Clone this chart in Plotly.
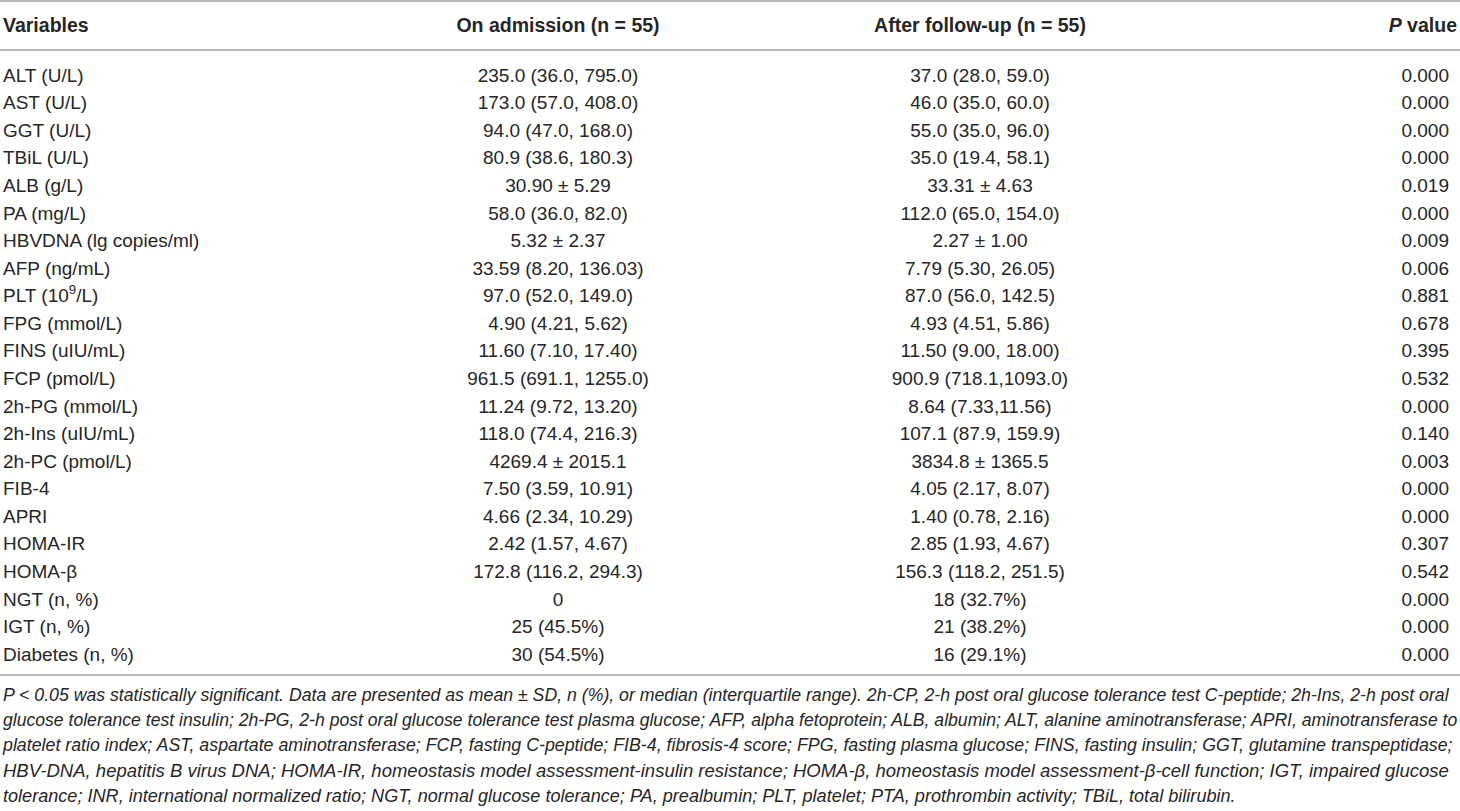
import plotly.graph_objects as go

variables = ["ALT (U/L)", "AST (U/L)", "GGT (U/L)", "TBiL (U/L)", "ALB (g/L)", "PA (mg/L)",
             "HBVDNA (lg copies/ml)", "AFP (ng/mL)", "PLT (10<sup>9</sup>/L)", "FPG (mmol/L)",
             "FINS (uIU/mL)", "FCP (pmol/L)", "2h-PG (mmol/L)", "2h-Ins (uIU/mL)", "2h-PC (pmol/L)",
             "FIB-4", "APRI", "HOMA-IR", "HOMA-β", "NGT (n, %)", "IGT (n, %)", "Diabetes (n, %)"]
on_admission = ["235.0 (36.0, 795.0)", "173.0 (57.0, 408.0)", "94.0 (47.0, 168.0)", "80.9 (38.6, 180.3)",
                "30.90 ± 5.29", "58.0 (36.0, 82.0)", "5.32 ± 2.37", "33.59 (8.20, 136.03)",
                "97.0 (52.0, 149.0)", "4.90 (4.21, 5.62)", "11.60 (7.10, 17.40)", "961.5 (691.1, 1255.0)",
                "11.24 (9.72, 13.20)", "118.0 (74.4, 216.3)", "4269.4 ± 2015.1", "7.50 (3.59, 10.91)",
                "4.66 (2.34, 10.29)", "2.42 (1.57, 4.67)", "172.8 (116.2, 294.3)", "0", "25 (45.5%)",
                "30 (54.5%)"]
after_follow_up = ["37.0 (28.0, 59.0)", "46.0 (35.0, 60.0)", "55.0 (35.0, 96.0)", "35.0 (19.4, 58.1)",
                   "33.31 ± 4.63", "112.0 (65.0, 154.0)", "2.27 ± 1.00", "7.79 (5.30, 26.05)",
                   "87.0 (56.0, 142.5)", "4.93 (4.51, 5.86)", "11.50 (9.00, 18.00)", "900.9 (718.1,1093.0)",
                   "8.64 (7.33,11.56)", "107.1 (87.9, 159.9)", "3834.8 ± 1365.5", "4.05 (2.17, 8.07)",
                   "1.40 (0.78, 2.16)", "2.85 (1.93, 4.67)", "156.3 (118.2, 251.5)", "18 (32.7%)",
                   "21 (38.2%)", "16 (29.1%)"]
p_values = ["0.000", "0.000", "0.000", "0.000", "0.019", "0.000", "0.009", "0.006", "0.881", "0.678",
            "0.395", "0.532", "0.000", "0.140", "0.003", "0.000", "0.000", "0.307", "0.542", "0.000",
            "0.000", "0.000"]
headers = ["Variables", "On admission (n = 55)", "After follow-up (n = 55)", "<i>P</i> value"]
footnote_lines = [
    "P < 0.05 was statistically significant. Data are presented as mean ± SD, n (%), or median (interquartile range). 2h-CP, 2-h post oral glucose tolerance test C-peptide; 2h-Ins, 2-h post oral",
    "glucose tolerance test insulin; 2h-PG, 2-h post oral glucose tolerance test plasma glucose; AFP, alpha fetoprotein; ALB, albumin; ALT, alanine aminotransferase; APRI, aminotransferase to",
    "platelet ratio index; AST, aspartate aminotransferase; FCP, fasting C-peptide; FIB-4, fibrosis-4 score; FPG, fasting plasma glucose; FINS, fasting insulin; GGT, glutamine transpeptidase;",
    "HBV-DNA, hepatitis B virus DNA; HOMA-IR, homeostasis model assessment-insulin resistance; HOMA-β, homeostasis model assessment-β-cell function; IGT, impaired glucose",
    "tolerance; INR, international normalized ratio; NGT, normal glucose tolerance; PA, prealbumin; PLT, platelet; PTA, prothrombin activity; TBiL, total bilirubin.",
]

W, H = 1460, 811
FONT = "Liberation Sans"
TXT = "#262626"
LINE = "#a0a0a0"
FS = 19
HFS = 19.5

row0, step = 77, 27.57
header_y = 27
rows_y = [row0 + i * step for i in range(len(variables))]
x_left, x_c1, x_c2 = 3, 558, 980
x_p_head, x_p_body = 1457, 1449

fig = go.Figure()

# header
fig.add_trace(go.Scatter(x=[x_left], y=[header_y], mode="text", text=[f"<b>{headers[0]}</b>"],
                         textposition="middle right", textfont=dict(family=FONT, size=HFS, color=TXT),
                         hoverinfo="skip", cliponaxis=False))
fig.add_trace(go.Scatter(x=[x_c1, x_c2], y=[header_y] * 2, mode="text",
                         text=[f"<b>{h}</b>" for h in headers[1:3]],
                         textposition="middle center", textfont=dict(family=FONT, size=HFS, color=TXT),
                         hoverinfo="skip", cliponaxis=False))
fig.add_trace(go.Scatter(x=[x_p_head], y=[header_y], mode="text", text=[f"<b>{headers[3]}</b>"],
                         textposition="middle left", textfont=dict(family=FONT, size=HFS, color=TXT),
                         hoverinfo="skip", cliponaxis=False))
# body
fig.add_trace(go.Scatter(x=[x_left] * len(variables), y=rows_y, mode="text", text=variables,
                         textposition="middle right", textfont=dict(family=FONT, size=FS, color=TXT),
                         hoverinfo="skip", cliponaxis=False))
for cx, col in zip([x_c1, x_c2], [on_admission, after_follow_up]):
    fig.add_trace(go.Scatter(x=[cx] * len(col), y=rows_y, mode="text", text=col,
                             textposition="middle center", textfont=dict(family=FONT, size=FS, color=TXT),
                             hoverinfo="skip", cliponaxis=False))
fig.add_trace(go.Scatter(x=[x_p_body] * len(p_values), y=rows_y, mode="text", text=p_values,
                         textposition="middle left", textfont=dict(family=FONT, size=FS, color=TXT),
                         hoverinfo="skip", cliponaxis=False))

# footnote (per-line sizes approximate the justified block)
foot_y0, foot_step = 697, 25
foot_sizes = [17.7, 17.6, 17.8, 18.5, 18.1]
fig.add_trace(go.Scatter(x=[x_left] * len(footnote_lines),
                         y=[foot_y0 + i * foot_step for i in range(len(footnote_lines))],
                         mode="text", text=[f"<i>{t}</i>" for t in footnote_lines],
                         textposition="middle right", textfont=dict(family=FONT, size=foot_sizes, color=TXT),
                         hoverinfo="skip", cliponaxis=False))

for yy in [1, 50, 675]:
    fig.add_shape(type="line", x0=0, x1=W, y0=yy, y1=yy, xref="x", yref="y",
                  line=dict(color=LINE, width=1.5))

fig.update_layout(width=W, height=H, margin=dict(l=0, r=0, t=0, b=0),
                  paper_bgcolor="white", plot_bgcolor="white", showlegend=False,
                  xaxis=dict(range=[0, W], visible=False, fixedrange=True),
                  yaxis=dict(range=[H, 0], visible=False, fixedrange=True))

fig.write_html("out.html", config={"displayModeBar": False},
               post_script="document.body.style.margin='0';document.body.style.overflow='hidden';")
